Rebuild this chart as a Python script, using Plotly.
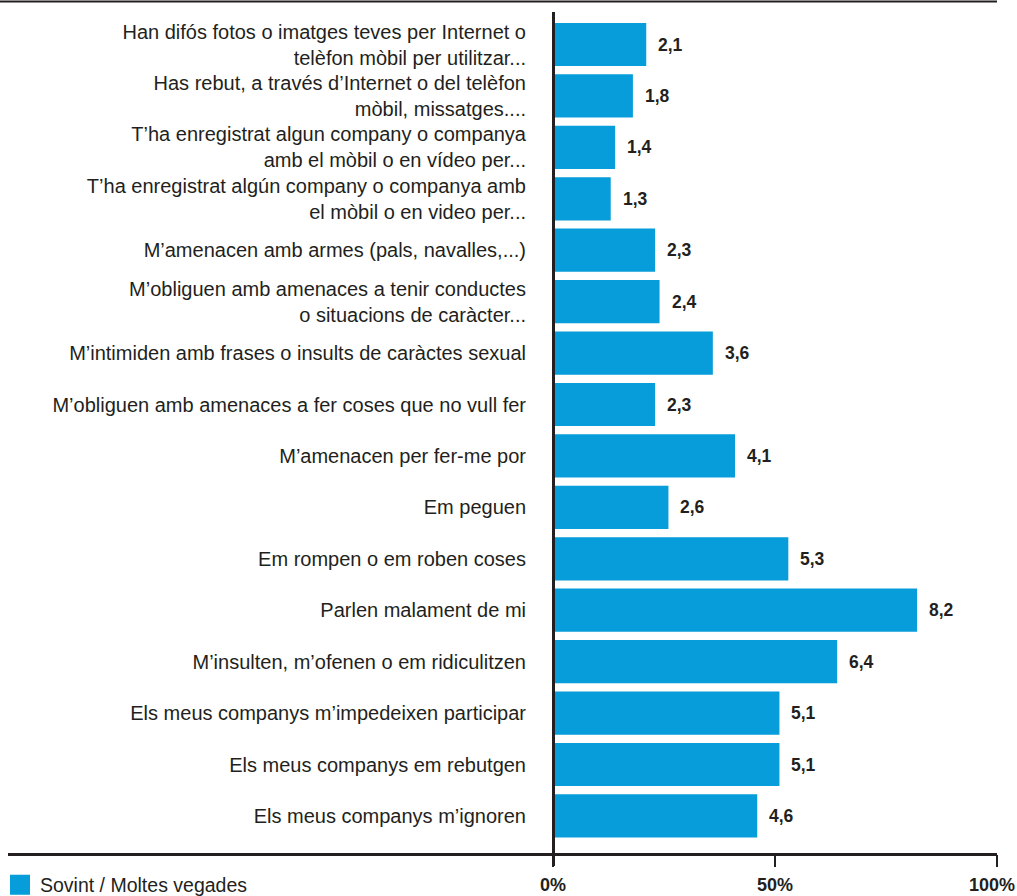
import plotly.graph_objects as go

labels = [
    "Han difós fotos o imatges teves per Internet o<br>telèfon mòbil per utilitzar...",
    "Has rebut, a través d’Internet o del telèfon<br>mòbil, missatges....",
    "T’ha enregistrat algun company o companya<br>amb el mòbil o en vídeo per...",
    "T’ha enregistrat algún company o companya amb<br>el mòbil o en video per...",
    "M’amenacen amb armes (pals, navalles,...)",
    "M’obliguen amb amenaces a tenir conductes<br>o situacions de caràcter...",
    "M’intimiden amb frases o insults de caràctes sexual",
    "M’obliguen amb amenaces a fer coses que no vull fer",
    "M’amenacen per fer-me por",
    "Em peguen",
    "Em rompen o em roben coses",
    "Parlen malament de mi",
    "M’insulten, m’ofenen o em ridiculitzen",
    "Els meus companys m’impedeixen participar",
    "Els meus companys em rebutgen",
    "Els meus companys m’ignoren",
]
values = [2.1, 1.8, 1.4, 1.3, 2.3, 2.4, 3.6, 2.3, 4.1, 2.6, 5.3, 8.2, 6.4, 5.1, 5.1, 4.6]
series_name = "Sovint / Moltes vegades"
x_tickvals = [0, 5, 10]
x_ticktext = ["0%", "50%", "100%"]

BLUE = "#069dda"
DARK = "#231f20"
FONT = "Liberation Sans"

fig = go.Figure()
fig.add_trace(go.Bar(
    x=values, y=labels, orientation="h",
    marker=dict(color=BLUE, line=dict(width=0)),
    width=0.84, showlegend=False, hoverinfo="x+y",
))
fig.add_trace(go.Scatter(
    x=[None], y=[None], mode="markers", name=series_name,
    marker=dict(symbol="square", size=21, color=BLUE, line=dict(color=BLUE, width=4)),
    showlegend=True,
))

for lab, v in zip(labels, values):
    fig.add_annotation(
        x=v, y=lab, xref="x", yref="y", xanchor="left", yanchor="middle",
        xshift=10, showarrow=False,
        text="<b>" + f"{v:.1f}".replace(".", ",") + "</b>",
        font=dict(family=FONT, size=17.5, color=DARK),
    )

W, H = 1017, 896
L, R, T, B = 553, 20, 12, 42
pw, ph = W - L - R, H - T - B

def px(xp):
    return (xp - L) / pw

def py(yp):
    return (H - B - yp) / ph

shapes = [
    # top rule
    dict(type="line", xref="paper", yref="paper", x0=px(0), x1=px(997), y0=py(1.5), y1=py(1.5),
         line=dict(color=DARK, width=2)),
    # bottom rule
    dict(type="line", xref="paper", yref="paper", x0=px(8), x1=px(997), y0=py(854.5), y1=py(854.5),
         line=dict(color=DARK, width=3)),
    # vertical zero line
    dict(type="line", xref="paper", yref="paper", x0=px(553.5), x1=px(553.5), y0=py(866), y1=py(12),
         line=dict(color=DARK, width=3)),
]

# last tick label sits slightly left of its tick in the reference
shown_ticktext = x_ticktext[:-1] + [x_ticktext[-1] + "\u00a0\u00a0"]

fig.update_layout(
    width=W, height=H,
    margin=dict(l=L, r=R, t=T, b=B, pad=0, autoexpand=False),
    paper_bgcolor="white", plot_bgcolor="white",
    font=dict(family=FONT, size=20, color=DARK),
    shapes=shapes,
    legend=dict(
        orientation="h", x=px(0), xanchor="left", y=py(885), yanchor="middle",
        font=dict(family=FONT, size=19.5, color=DARK), itemsizing="trace",
        bgcolor="rgba(0,0,0,0)",
    ),
    xaxis=dict(
        range=[0, 10], tickvals=x_tickvals, ticktext=shown_ticktext,
        ticks="outside", ticklen=12, tickwidth=1.5, tickcolor=DARK,
        showgrid=False, zeroline=False, showline=False, automargin=False,
        tickfont=dict(family=FONT, size=18, color=DARK, weight="bold"),
        ticklabelstandoff=2, ticklabeloverflow="allow",
    ),
    yaxis=dict(
        type="category", categoryorder="array", categoryarray=labels,
        range=[15.74, -0.632], automargin=False,
        showgrid=False, zeroline=False, showline=False, ticks="",
        tickfont=dict(family=FONT, size=20, color=DARK),
        ticklabelstandoff=26,
    ),
)

fig.write_html(
    "out.html",
    config={"displayModeBar": False},
    post_script="document.body.style.margin='0';document.body.style.overflow='hidden';",
)
